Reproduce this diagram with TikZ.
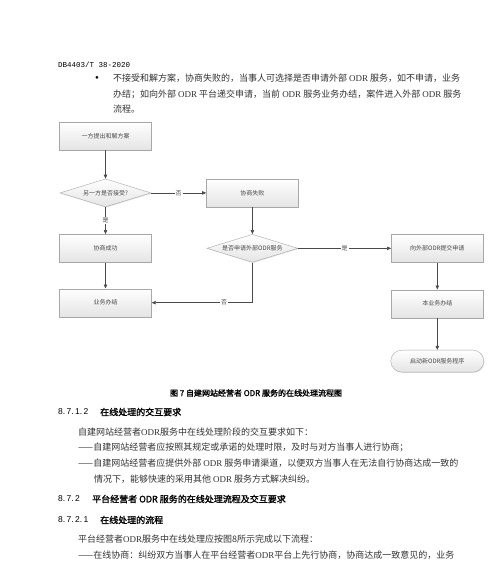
\documentclass[tikz,border=0pt]{standalone}
\usepackage{fontspec}
\setmainfont{Liberation Serif}
\setsansfont{Liberation Sans}
\setmonofont{Liberation Mono}
\newfontfamily\cjk{Noto Sans CJK SC}
\newfontfamily\cjkbf{Noto Sans CJK SC}[FakeBold=1.5]
\usetikzlibrary{arrows.meta,positioning,shapes.geometric,shadows}
\definecolor{ink}{HTML}{333333}
\definecolor{inkdim}{HTML}{4A4A4A}
\definecolor{rim}{HTML}{A8A8A8}
\definecolor{shade}{HTML}{E4E4E4}

\begin{document}
\begin{tikzpicture}[x=1pt, y=1pt,
      box/.style={draw=rim, top color=white, bottom color=shade, minimum width=92pt, minimum height=28pt,
        inner sep=1pt, align=center, font=\cjk\fontsize{6}{7}\selectfont, text=inkdim,
        drop shadow={opacity=0.2, shadow xshift=0.8pt, shadow yshift=-0.8pt}},
      ask/.style={box, shape=diamond, aspect=3.2, minimum width=91pt, minimum height=28pt, inner sep=0pt},
      arr/.style={-{Triangle[length=4pt, width=3.4pt]}, draw=inkdim, line width=0.6pt},
      tag/.style={fill=white, inner sep=1pt, font=\cjk\fontsize{6}{7}\selectfont, text=inkdim},
      txt/.style={anchor=west, inner sep=0pt, font=\cjk\fontsize{9}{11}\selectfont, text=ink},
      head/.style={txt, font=\cjkbf\fontsize{9}{11}\selectfont, text=black},
      num/.style={txt, font=\sffamily\fontsize{8.5}{10}\selectfont, text=black}
    ]
    \fill[white] (0,0) rectangle (500,-565);
    \useasboundingbox (0,0) rectangle (500,-565);

    % page text above the chart
    \node[txt, font=\ttfamily\fontsize{7.5}{9}\selectfont, text=black] (code) at (58,-65) {DB4403/T 38-2020};
    \node[txt, font=\rmfamily\fontsize{11}{12}\selectfont, text=black] (dot) at (95,-79) {\textbullet};
    \node[txt] (bul1) at (113,-78) {不接受和解方案，协商失败的，当事人可选择是否申请外部 {\rmfamily ODR} 服务，如不申请，业务};
    \node[txt] (bul2) at (113,-94) {办结；如向外部 {\rmfamily ODR} 平台递交申请，当前 {\rmfamily ODR} 服务业务办结，案件进入外部 {\rmfamily ODR} 服务};
    \node[txt] (bul3) at (113,-109) {流程。};

    % flow chart
    \node[box] (offer) at (105.5,-136) {一方提出和解方案};
    \node[ask, below=28.5pt of offer] (accept) {另一方是否接受?};
    \node[box, right=55pt of accept] (fail) {协商失败};
    \node[ask, below=27pt of fail] (apply) {是否申请外部ODR服务};
    \node[box, right=93pt of apply] (submit) {向外部ODR提交申请};
    \node[box, below=27pt of accept] (agree) {协商成功};
    \node[box, below=26pt of agree] (close) {业务办结};
    \node[box, below=27pt of submit] (closeall) {本业务办结};
    \node[box, rounded corners=11pt, minimum height=22pt, minimum width=93pt, below=32pt of closeall] (restart) {启动新ODR服务程序};

    \draw[arr] (offer) -- (accept);
    \draw[arr] (accept) -- node[tag] {否} (fail);
    \draw[arr] (accept) -- node[tag] {是} (agree);
    \draw[arr] (fail) -- (apply);
    \draw[arr] (apply) -- node[tag] {是} (submit);
    \draw[arr] (apply.south) |- node[tag, pos=0.64] {否} (close.east);
    \draw[arr] (agree) -- (close);
    \draw[arr] (submit) -- (closeall);
    \draw[arr] (closeall) -- (restart);

    \node[font=\cjkbf\fontsize{8}{10}\selectfont, text=black] (cap) at (256,-393) {图 7 自建网站经营者 ODR 服务的在线处理流程图};

    % page text below the chart
    \node[num] (n1) at (58,-412) {8.\,7.\,1.\,2};
    \node[head] (h1) at (100,-412) {在线处理的交互要求};
    \node[txt] (p1) at (78,-432) {自建网站经营者{\rmfamily ODR}服务中在线处理阶段的交互要求如下：};
    \node[txt] (p2) at (78,-447) {——自建网站经营者应按照其规定或承诺的处理时限，及时与对方当事人进行协商；};
    \node[txt] (p3) at (78,-463) {——自建网站经营者应提供外部 {\rmfamily ODR} 服务申请渠道，以便双方当事人在无法自行协商达成一致的};
    \node[txt] (p4) at (94,-479) {情况下，能够快速的采用其他 {\rmfamily ODR} 服务方式解决纠纷。};
    \node[num] (n2) at (58,-499) {8.\,7.\,2};
    \node[head] (h2) at (92,-499) {平台经营者 ODR 服务的在线处理流程及交互要求};
    \node[num] (n3) at (58,-520) {8.\,7.\,2.\,1};
    \node[head] (h3) at (100,-520) {在线处理的流程};
    \node[txt] (p5) at (78,-539) {平台经营者{\rmfamily ODR}服务中在线处理应按图8所示完成以下流程：};
    \node[txt] (p6) at (78,-555) {——在线协商：纠纷双方当事人在平台经营者{\rmfamily ODR}平台上先行协商，协商达成一致意见的，业务};
  \end{tikzpicture}
\end{document}
